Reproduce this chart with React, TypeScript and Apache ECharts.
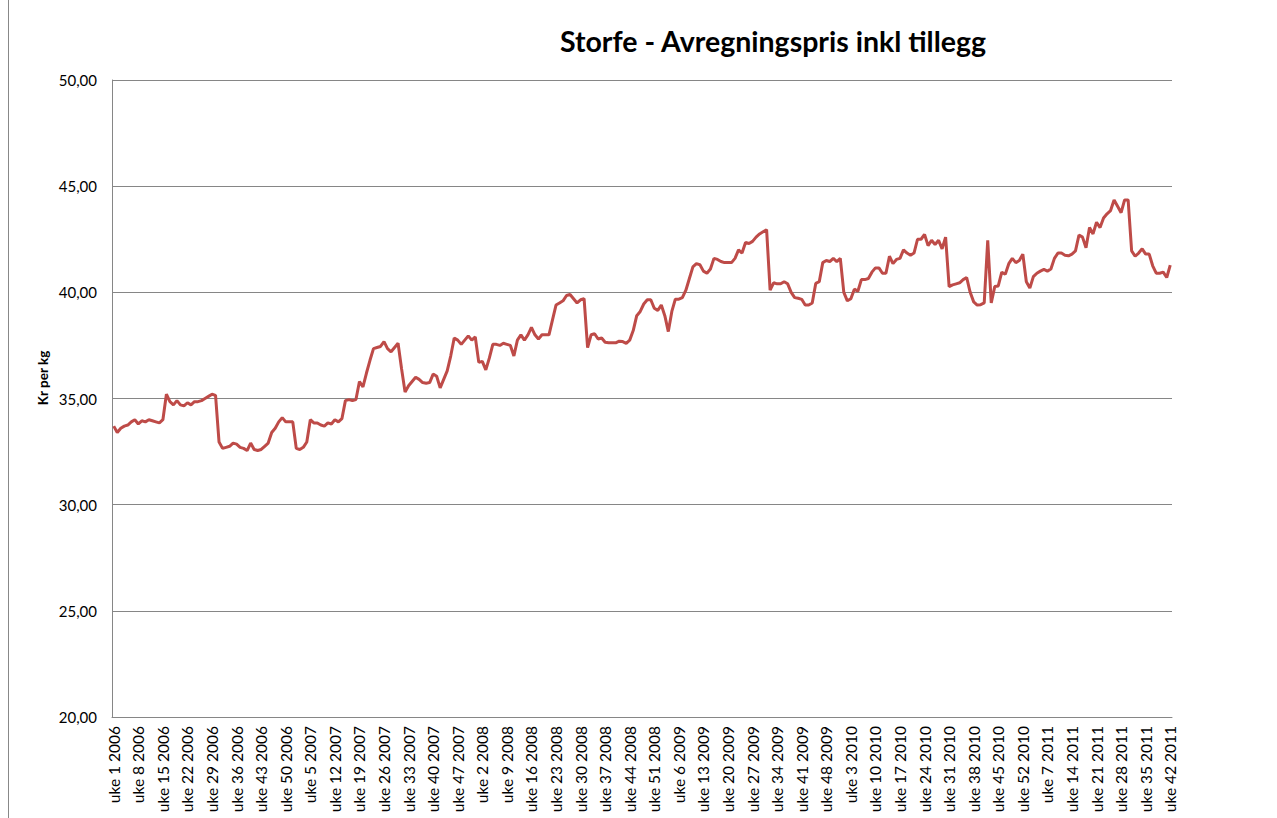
import React, { useEffect, useRef } from "react";
import * as echarts from "echarts";

const years = [2006, 2007, 2008, 2009, 2010, 2011];
const weeksPerYear = [52, 52, 52, 52, 52, 42];

const v2006 = [
  33.7, 33.4, 33.6, 33.7, 33.75, 33.9, 34.0, 33.8, 33.95, 33.9,
  34.0, 33.95, 33.9, 33.85, 34.0, 35.2, 34.85, 34.7, 34.9, 34.7,
  34.65, 34.8, 34.7, 34.85, 34.85, 34.9, 35.0, 35.1, 35.2, 35.15,
  32.95, 32.65, 32.7, 32.75, 32.9, 32.85, 32.7, 32.65, 32.55, 32.9,
  32.6, 32.55, 32.6, 32.75, 32.9, 33.4, 33.6, 33.9, 34.1, 33.9,
  33.9, 33.9,
];
const v2007 = [
  32.65, 32.6, 32.7, 32.95, 34.0, 33.85, 33.85, 33.75, 33.7, 33.85,
  33.8, 34.0, 33.9, 34.05, 34.9, 34.95, 34.9, 34.95, 35.8, 35.55,
  36.2, 36.8, 37.35, 37.4, 37.45, 37.68, 37.35, 37.2, 37.4, 37.6,
  36.4, 35.3, 35.6, 35.8, 36.0, 35.9, 35.75, 35.72, 35.75, 36.15,
  36.05, 35.5, 35.9, 36.3, 37.0, 37.85, 37.75, 37.55, 37.75, 37.95,
  37.75, 37.9,
];
const v2008 = [
  36.7, 36.75, 36.35, 36.9, 37.55, 37.55, 37.5, 37.6, 37.55, 37.5,
  37.0, 37.75, 38.0, 37.75, 38.0, 38.35, 38.0, 37.8, 38.0, 38.0,
  38.0, 38.7, 39.4, 39.5, 39.6, 39.85, 39.9, 39.7, 39.5, 39.65,
  39.7, 37.4, 38.0, 38.05, 37.8, 37.85, 37.65, 37.63, 37.63, 37.62,
  37.7, 37.68, 37.6, 37.75, 38.2, 38.9, 39.1, 39.45, 39.65, 39.65,
  39.25, 39.15,
];
const v2009 = [
  39.4, 38.9, 38.15, 39.1, 39.68, 39.68, 39.75, 40.1, 40.65, 41.2,
  41.35, 41.3, 41.0, 40.9, 41.1, 41.6, 41.55, 41.45, 41.4, 41.4,
  41.4, 41.6, 42.0, 41.85, 42.35, 42.3, 42.4, 42.6, 42.75, 42.85,
  42.95, 40.1, 40.45, 40.4, 40.4, 40.5, 40.4, 40.0, 39.75, 39.72,
  39.67, 39.4, 39.4, 39.5, 40.42, 40.5, 41.4, 41.5, 41.45, 41.6,
  41.45, 41.6,
];
const v2010 = [
  40.0, 39.6, 39.7, 40.15, 40.05, 40.6, 40.6, 40.65, 40.95, 41.15,
  41.15, 40.9, 40.9, 41.7, 41.35, 41.55, 41.6, 42.0, 41.85, 41.75,
  41.85, 42.5, 42.5, 42.73, 42.2, 42.45, 42.25, 42.45, 42.05, 42.6,
  40.27, 40.35, 40.4, 40.45, 40.6, 40.7, 40.0, 39.55, 39.4, 39.42,
  39.5, 42.45, 39.5, 40.27, 40.3, 40.95, 40.85, 41.35, 41.6, 41.4,
  41.5, 41.8,
];
const v2011 = [
  40.5, 40.2, 40.74, 40.9, 41.0, 41.08, 41.0, 41.1, 41.6, 41.85,
  41.85, 41.75, 41.72, 41.8, 41.95, 42.7, 42.6, 42.1, 43.05, 42.75,
  43.3, 43.05, 43.5, 43.7, 43.85, 44.35, 44.05, 43.75, 44.35, 44.35,
  41.95, 41.7, 41.85, 42.05, 41.8, 41.8, 41.25, 40.9, 40.9, 40.95,
  40.7, 41.28,
];

const values = [...v2006, ...v2007, ...v2008, ...v2009, ...v2010, ...v2011];
const categories: string[] = [];
years.forEach((y, k) => {
  for (let w = 1; w <= weeksPerYear[k]; w++) categories.push(`uke ${w} ${y}`);
});

const FONT = "Lato, 'Open Sans', sans-serif";

export default function App() {
  const ref = useRef<HTMLDivElement>(null);
  useEffect(() => {
    if (!ref.current) return;
    const chart = echarts.init(ref.current, undefined, { renderer: "svg" });
    chart.setOption({
      animation: false,
      backgroundColor: "#ffffff",
      title: {
        text: "Storfe - Avregningspris inkl tillegg",
        left: 555,
        top: 21,
        textStyle: { fontFamily: FONT, fontSize: 28.5, fontWeight: "bold", color: "#000" },
      },
      graphic: [
        {
          type: "line",
          shape: { x1: 8.5, y1: 0, x2: 8.5, y2: 818 },
          style: { stroke: "#888", lineWidth: 1 },
        },
        {
          type: "text",
          x: 43,
          y: 378,
          rotation: Math.PI / 2,
          style: {
            text: "Kr per kg",
            fontFamily: FONT,
            fontSize: 13.5,
            fontWeight: "bold",
            fill: "#000",
            textAlign: "center",
            textVerticalAlign: "middle",
          },
        },
      ],
      grid: {
        left: 112,
        right: 105,
        top: 80,
        bottom: 101,
        containLabel: false,
        outerBoundsMode: "none",
      },
      xAxis: {
        type: "category",
        data: categories,
        boundaryGap: true,
        axisLine: { lineStyle: { color: "#868686", width: 1 } },
        axisTick: { show: false },
        axisLabel: {
          interval: 6,
          rotate: 90,
          fontFamily: FONT,
          fontSize: 15.5,
          color: "#000",
          margin: 9,
        },
      },
      yAxis: {
        type: "value",
        min: 20,
        max: 50,
        interval: 5,
        axisLine: { show: true, lineStyle: { color: "#868686", width: 1 } },
        axisTick: { show: false },
        splitLine: { lineStyle: { color: "#868686", width: 1 } },
        axisLabel: {
          fontFamily: FONT,
          fontSize: 15,
          color: "#000",
          margin: 15,
          formatter: (v: number) => v.toFixed(2).replace(".", ","),
        },
      },
      series: [
        {
          type: "line",
          data: values,
          showSymbol: false,
          symbol: "none",
          lineStyle: { color: "#BE4B48", width: 3 },
          itemStyle: { color: "#BE4B48" },
        },
      ],
    });
    return () => chart.dispose();
  }, []);
  return (
    <div
      ref={ref}
      style={{ position: "fixed", left: 0, top: 0, width: 1277, height: 818 }}
    />
  );
}
